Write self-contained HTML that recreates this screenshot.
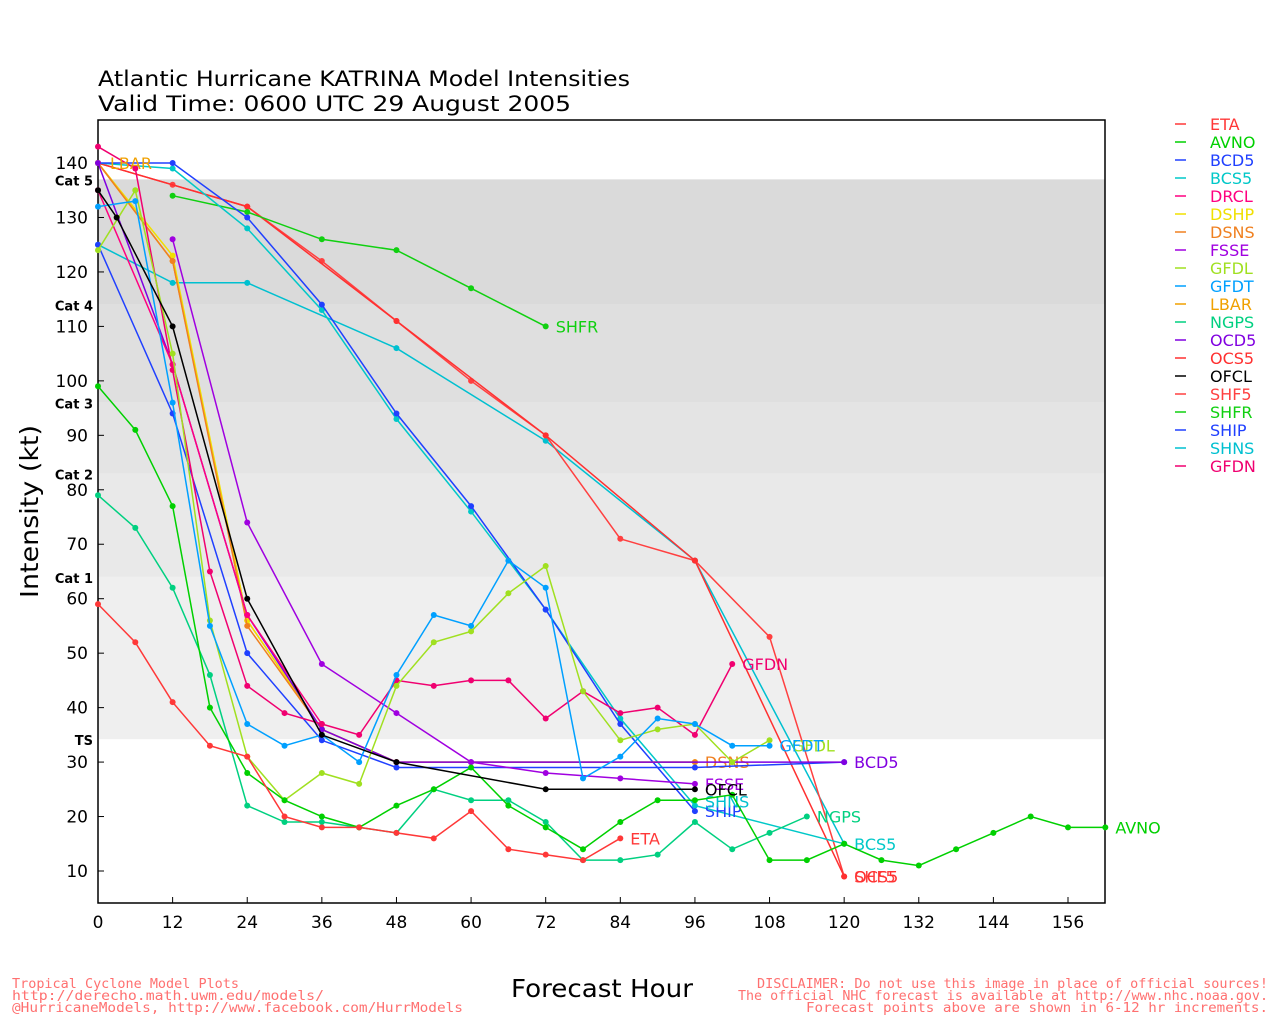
<!DOCTYPE html>
<html><head><meta charset="utf-8"><style>
body{margin:0;background:#fff;width:1280px;height:1024px;overflow:hidden}
svg text{font-family:"DejaVu Sans","Liberation Sans",sans-serif}
</style></head><body>
<svg id="s" width="1280" height="1024" xmlns="http://www.w3.org/2000/svg">
<text x="98" y="86" font-size="21" textLength="532" lengthAdjust="spacingAndGlyphs">Atlantic Hurricane KATRINA Model Intensities</text>
<text x="98" y="111" font-size="21" textLength="473" lengthAdjust="spacingAndGlyphs">Valid Time: 0600 UTC 29 August 2005</text>
<text x="511" y="997" font-size="25" textLength="182" lengthAdjust="spacingAndGlyphs">Forecast Hour</text>
<text transform="translate(38,598) rotate(-90)" font-size="25" textLength="173" lengthAdjust="spacingAndGlyphs">Intensity (kt)</text>
<g font-size="13" fill="#ff7070" style="font-family:'DejaVu Sans Mono',monospace">
<text x="12" y="988" textLength="227" lengthAdjust="spacingAndGlyphs" style="font-family:'DejaVu Sans Mono',monospace">Tropical Cyclone Model Plots</text>
<text x="12" y="1000" textLength="312" lengthAdjust="spacingAndGlyphs" style="font-family:'DejaVu Sans Mono',monospace">http://derecho.math.uwm.edu/models/</text>
<text x="12" y="1012" textLength="451" lengthAdjust="spacingAndGlyphs" style="font-family:'DejaVu Sans Mono',monospace">@HurricaneModels, http://www.facebook.com/HurrModels</text>
<text x="757" y="988" textLength="511" lengthAdjust="spacingAndGlyphs" style="font-family:'DejaVu Sans Mono',monospace">DISCLAIMER: Do not use this image in place of official sources!</text>
<text x="738" y="1000" textLength="530" lengthAdjust="spacingAndGlyphs" style="font-family:'DejaVu Sans Mono',monospace">The official NHC forecast is available at http://www.nhc.noaa.gov.</text>
<text x="806" y="1012" textLength="462" lengthAdjust="spacingAndGlyphs" style="font-family:'DejaVu Sans Mono',monospace">Forecast points above are shown in 6-12 hr increments.</text>
</g>
</svg>
<script>
var S=document.getElementById('s'),NS='http://www.w3.org/2000/svg';
function X(h){return 98+h*6.218}function Y(k){return 871-(k-10)*5.446}
function el(t,a,txt){var e=document.createElementNS(NS,t);for(var k in a)e.setAttribute(k,a[k]);if(txt!=null)e.textContent=txt;S.appendChild(e);return e}
var L=98,R=1105,T=120,B=903;
[[137,114,'#dadada','Cat 5'],[114,96,'#dfdfdf','Cat 4'],[96,83,'#e4e4e4','Cat 3'],[83,64,'#e9e9e9','Cat 2'],[64,34.2,'#efefef','Cat 1']].forEach(function(b){
el('rect',{x:L,y:Y(b[0]),width:R-L,height:Y(b[1])-Y(b[0]),fill:b[2]});
el('text',{x:93,y:Y(b[0])+6,'font-size':13,'font-weight':'bold','text-anchor':'end'},b[3]);});
el('text',{x:93,y:Y(34.2)+6,'font-size':13,'font-weight':'bold','text-anchor':'end'},'TS');
el('rect',{x:L,y:T,width:R-L,height:B-T,fill:'none',stroke:'#000','stroke-width':1.5});
for(var k=10;k<=140;k+=10){el('line',{x1:L,x2:L+6,y1:Y(k),y2:Y(k),stroke:'#000'});el('text',{x:88,y:Y(k)+6,'font-size':17,'text-anchor':'end'},k);}
for(var h=0;h<=156;h+=12){el('line',{x1:X(h),x2:X(h),y1:B,y2:B-6,stroke:'#000'});el('text',{x:X(h),y:928,'font-size':17,'text-anchor':'middle'},h);}
function ser(c,pts,lab,lh,lk){var d='';for(var i=0;i<pts.length;i+=2)d+=(i?'L':'M')+X(pts[i]).toFixed(1)+' '+Y(pts[i+1]).toFixed(1);
el('path',{d:d,fill:'none',stroke:c,'stroke-width':1.5});
for(var i=0;i<pts.length;i+=2)el('circle',{cx:X(pts[i]),cy:Y(pts[i+1]),r:3,fill:c});
if(lab){var n=pts.length;el('text',{x:X(lh!=null?lh:pts[n-2])+10,y:Y(lk!=null?lk:pts[n-1])+6,'font-size':16,fill:c},lab);}}
var C={ETA:'#ff3838',AVNO:'#00d000',BCD5:'#2040ff',BCS5:'#00c8c8',DRCL:'#ff0080',DSHP:'#f0e000',DSNS:'#f08020',FSSE:'#a000e0',GFDL:'#a0e020',GFDT:'#00a0ff',LBAR:'#f0a000',NGPS:'#00d080',OCD5:'#8000e0',OCS5:'#ff3030',OFCL:'#000000',SHF5:'#ff4040',SHFR:'#10d010',SHIP:'#2040ff',SHNS:'#00c0d0',GFDN:'#f00070'};
ser(C.SHNS,[0,125,12,118,24,118,48,106,72,89,96,67,120,15]);
ser(C.SHF5,[0,140,12,136,24,132,36,122,48,111,60,100,72,90,84,71,96,67,108,53,120,9],'SHF5');
ser(C.OCS5,[0,140,24,132,48,111,72,90,96,67,120,9],'OCS5');
ser(C.SHFR,[12,134,24,131,36,126,48,124,60,117,72,110],'SHFR');
ser(C.BCS5,[0,140,12,139,24,128,36,113,48,93,60,76,72,58,84,38,96,22,120,15],'BCS5');
ser(C.BCD5,[0,140,12,140,24,130,36,114,48,94,60,77,72,58,84,37,96,21]);
ser(C.LBAR,[0,140,12,122,24,56,36,36,48,30]);
ser(C.DSHP,[0,140,12,123,24,56,36,36,48,30,96,30]);
ser(C.DSNS,[0,140,12,122,24,55,36,36,48,30,96,30],'DSNS');
ser(C.SHIP,[0,125,12,94,24,50,36,34,48,29,96,29,120,30]);
ser(C.OCD5,[0,140,12,103,24,57,36,36,48,30,60,30,120,30],'BCD5');
ser(C.FSSE,[12,126,24,74,36,48,48,39,60,30,72,28,84,27,96,26],'FSSE');
el('text',{x:X(96)+10,y:Y(21)+6,'font-size':16,fill:C.SHIP},'SHIP');
el('text',{x:X(96)+10,y:Y(22)+2,'font-size':16,fill:C.SHNS},'SHNS');
ser(C.DRCL,[0,135,12,103,24,57,36,37]);
ser(C.GFDN,[0,143,6,139,12,102,18,65,24,44,30,39,36,37,42,35,48,45,54,44,60,45,66,45,72,38,78,43,84,39,90,40,96,35,102,48],'GFDN');
ser(C.GFDL,[0,124,6,135,12,105,18,56,24,31,30,23,36,28,42,26,48,44,54,52,60,54,66,61,72,66,78,43,84,34,90,36,96,37,102,30,108,34],'GFDL',110,33);
ser(C.GFDT,[0,132,6,133,12,96,18,55,24,37,30,33,36,35,42,30,48,46,54,57,60,55,66,67,72,62,78,27,84,31,90,38,96,37,102,33,108,33],'GFDT');
ser(C.NGPS,[0,79,6,73,12,62,18,46,24,22,30,19,36,19,42,18,48,17,54,25,60,23,66,23,72,19,78,12,84,12,90,13,96,19,102,14,108,17,114,20],'NGPS');
ser(C.AVNO,[0,99,6,91,12,77,18,40,24,28,30,23,36,20,42,18,48,22,54,25,60,29,66,22,72,18,78,14,84,19,90,23,96,23,102,24,108,12,114,12,120,15,126,12,132,11,138,14,144,17,150,20,156,18,162,18],'AVNO');
ser(C.ETA,[0,59,6,52,12,41,18,33,24,31,30,20,36,18,42,18,48,17,54,16,60,21,66,14,72,13,78,12,84,16],'ETA');
ser(C.OFCL,[0,135,3,130,12,110,24,60,36,35,48,30,72,25,96,25],'OFCL');
var names=['ETA','AVNO','BCD5','BCS5','DRCL','DSHP','DSNS','FSSE','GFDL','GFDT','LBAR','NGPS','OCD5','OCS5','OFCL','SHF5','SHFR','SHIP','SHNS','GFDN'];
names.forEach(function(n,i){var y=124+i*18;el('line',{x1:1175,x2:1186,y1:y,y2:y,stroke:C[n],'stroke-width':1.5});el('text',{x:1210,y:y+6,'font-size':16,fill:C[n]},n);});
el('text',{x:X(0)+12,y:Y(140)+6,'font-size':16,fill:C.LBAR},'LBAR');
</script>
</body></html>
